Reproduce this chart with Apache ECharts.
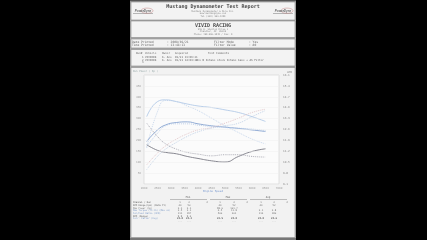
<!DOCTYPE html>
<html><head><meta charset="utf-8">
<script src="https://cdn.jsdelivr.net/npm/echarts@6/dist/echarts.min.js"></script>
<style>html,body{margin:0;padding:0;background:#000;}#c{width:427px;height:240px;}</style>
</head><body><div id="c"></div>
<script>
const rpm = [2100,2500,2800,3200,3600,4000,4500,5000,5500,6000,6500];
const run1Power = [309,378,386,378,367,358,351,340,328,309,287];
const run2Power = [165,332,383,378,358,337,302,267,236,206,184];
const run1Torque = [195,248,271,282,285,276,267,261,255,248,241];
const run2Torque = [172,233,267,276,276,270,264,259,256,252,245];
const run1Boost = [88,142,175,206,230,248,259,279,302,328,343];
const run2Boost = [66,127,160,191,218,239,256,267,279,309,337];
const run1Afr = [11.62,11.26,11.13,11.04,10.87,10.74,10.59,10.51,10.87,11.19,11.36];
const run2Afr = [13.01,12.15,11.68,11.34,11.13,11.02,10.91,10.98,10.98,10.87,10.83];
const xTicks = {min:2000, max:7000, step:500};
const leftTicks = {min:0, max:500, step:50};
const rightTicks = {min:9.1, max:16.1, step:0.7};
const tableRows = ['Channel / Run','RPM Range(rpm) (Data Pt)','Max Power (hp)','Max Torque (ft-lb) (Max vs)','Air/Fuel Ratio (AFR)','RPM (Range)','Corr. Factor (Avg)'];
const tableRowColors = ['#555','#666','#777','#7f9cc8','#7f9cc8','#666','#7f9cc8'];
const tableVals = [
  ['1','2','3','1','2','3','1','2','3'],
  ['44','50','','44','52','','44','52',''],
  ['2.1','2.1','','98.0','101.7','','','',''],
  ['2.5','2.1','','6.5','11.8','','2.1','2.8',''],
  ['111','197','','500','201','','116','180',''],
  ['9.9','9.6','','','','','','',''],
  ['23.8','23.2','','22.9','23.8','','23.8','23.6',''],
  ['...','...','','...','...','','...','...','']
];

const mono = '"DejaVu Sans Mono", monospace';
function T(x,y,text,o){o=o||{};return {type:'text',x:x,y:y,silent:true,z:10,style:{text:text,fill:o.c||'#666',font:(o.w||'normal')+' '+(o.s||3)+'px '+(o.f||mono),textAlign:o.a||'left',textVerticalAlign:'middle'}};}
function R(x,y,w,h,fill,stroke,lw){return {type:'rect',silent:true,z:1,shape:{x:x,y:y,width:w,height:h},style:{fill:fill,stroke:stroke||null,lineWidth:lw||0}};}
function L(x1,y1,x2,y2,c,lw){return {type:'line',silent:true,z:5,shape:{x1:x1,y1:y1,x2:x2,y2:y2},style:{stroke:c,lineWidth:lw||0.5}};}

const g = [];
g.push(R(130,0,166,240,'#a8a8a8'));
g.push(R(131,2,164,18,'#f3f3f3','#8a8a8a',0.6));
g.push(R(131,21,164,16.5,'#f3f3f3','#8a8a8a',0.6));
g.push(R(131,39,164,9,'#f3f3f3','#8a8a8a',0.6));
g.push(R(131,49.5,164,16.5,'#f3f3f3','#8a8a8a',0.6));
g.push(R(131,67.5,164,170,'#f2f2f2','#8a8a8a',0.6));
g.push(R(130,0,166,1.2,'#555'));
g.push(R(130,238,166,2,'#777'));
// header
g.push(T(213,7,'Mustang Dynamometer Test Report',{s:5,w:'bold',c:'#4a4a4a',a:'center'}));
g.push(T(213,11,'Mustang Dynamometer & More Inc.',{s:2.3,c:'#888',a:'center'}));
g.push(T(213,13.5,'www.mustangdyne.com',{s:2.3,c:'#888',a:'center'}));
g.push(T(213,16,'Tel (330) 963-5400',{s:2.3,c:'#888',a:'center'}));
[[143,11.5],[283,11.5]].forEach(function(p){
  g.push({type:'ellipse',silent:true,z:6,shape:{cx:p[0]+4,cy:p[1]-0.8,rx:6,ry:2.6},style:{fill:null,stroke:'#c08080',lineWidth:0.5}});
  g.push(T(p[0],p[1],'PowerDyne',{s:3,w:'bold italic',c:'#666',a:'center',f:'"Liberation Sans", sans-serif'}));
  g.push(L(p[0]-10,p[1]+2,p[0]+10,p[1]+2,'#777',0.5));
});
g.push(T(213,25.5,'VIVID RACING',{s:5,w:'bold',c:'#4a4a4a',a:'center'}));
g.push(T(213,29.5,'955 W. Shelton Drive 1',{s:2.3,c:'#888',a:'center'}));
g.push(T(213,31.8,'Chandler, AZ  85226',{s:2.3,c:'#888',a:'center'}));
g.push(T(213,34.2,'Phone: 480-966-3040 / Fax: 0',{s:2.3,c:'#888',a:'center'}));
// date box
g.push(T(132,42,'Date Printed',{s:3,c:'#666'}));
g.push(T(132,45,'Time Printed',{s:3,c:'#666'}));
g.push(T(167,42,': 2008/01/21',{s:3,c:'#666'}));
g.push(T(167,45,': 13:44:13',{s:3,c:'#666'}));
g.push(T(214,42,'Filter Mode',{s:3,c:'#666'}));
g.push(T(214,45,'Filter Value',{s:3,c:'#666'}));
g.push(T(249,42,': Yes',{s:3,c:'#666'}));
g.push(T(249,45,': 80',{s:3,c:'#666'}));
// runs box
g.push(T(136,53,'Run#',{s:2.7,c:'#666'}));
g.push(T(145,53,'Vehicle',{s:2.7,c:'#666'}));
g.push(T(162,53,'Owner',{s:2.7,c:'#666'}));
g.push(T(175,53,'Acquired',{s:2.7,c:'#666'}));
g.push(T(208,53,'Test Comments',{s:2.7,c:'#666'}));
g.push(T(142,57,'1',{s:2.7,c:'#666'}));
g.push(T(145,57,'VIVID08',{s:2.7,c:'#666'}));
g.push(T(162,57,'K. Ano',{s:2.7,c:'#666'}));
g.push(T(175,57,'01/21 13:06:21',{s:2.7,c:'#666'}));
g.push(T(142,60,'2',{s:2.7,c:'#666'}));
g.push(T(145,60,'VIVID08',{s:2.7,c:'#666'}));
g.push(T(162,60,'K. Ano',{s:2.7,c:'#666'}));
g.push(T(175,60,'01/21 14:09:27',{s:2.7,c:'#666'}));
g.push(T(196,60,'Ans N Intake stock Intake base + AS Filter',{s:2.7,c:'#666'}));
g.push(T(142,62.8,'3',{s:2.7,c:'#666'}));
// chart labels
g.push(T(133,71,'Run Power ( hp )',{s:2.6,c:'#9aa'}));
g.push(T(292,72,'AFR',{s:2.6,c:'#777',a:'right'}));
g.push(T(213,191,'Engine Speed',{s:2.8,c:'#7a9ad0',a:'center'}));
// table
[[188,'Min',170,207],[228,'Max',210,247],[268,'Avg',250,287]].forEach(function(h){
  g.push(T(h[0],197.5,h[1],{s:2.6,c:'#666',a:'center'}));
  g.push(L(h[2],199.5,h[3],199.5,'#888',0.5));
});
const colX = [180,189,207,220,234,247,261,274,287];
const rowY = [202.7,205.3,208,210.7,213.3,216,218.7,221.3];
tableRows.forEach(function(r,i){ g.push(T(133,rowY[i],r,{s:2.3,c:tableRowColors[i]})); });
tableVals.forEach(function(row,i){ row.forEach(function(v,j){ if(v) g.push(T(colX[j],rowY[i],v,{s:2.5,c:i===6?'#555':'#777',a:'center',w:i===6?'bold':'normal'})); }); });

function pairs(ys){return rpm.map(function(x,i){return [x,ys[i]];});}
function S(name,ys,color,dash,axis,w){return {name:name,type:'line',smooth:true,symbol:'none',yAxisIndex:axis||0,data:pairs(ys),lineStyle:{color:color,width:w||0.8,type:dash?[1,1]:'solid'},z:3};}

const chart = echarts.init(document.getElementById('c'),null,{renderer:'canvas'});
chart.setOption({
  backgroundColor:'#000',
  animation:false,
  grid:{left:144,top:75,width:135,height:109,show:true,backgroundColor:'#fbfbfb',borderColor:'#d0d0d0',borderWidth:0.6,z:2},
  xAxis:{type:'value',z:8,min:xTicks.min,max:xTicks.max,interval:xTicks.step,
    axisLine:{show:false},axisTick:{show:false},splitLine:{show:false},
    axisLabel:{show:true,fontSize:2.8,color:'#a0a0a0',margin:3,fontFamily:mono,formatter:function(v){return String(v);}}},
  yAxis:[{type:'value',z:8,min:leftTicks.min,max:leftTicks.max,interval:leftTicks.step,
    axisLine:{show:false},axisTick:{show:false},
    splitLine:{show:true,lineStyle:{color:'#efefef',width:0.5}},
    axisLabel:{show:true,fontSize:2.8,color:'#a0a0a0',margin:3,fontFamily:mono,formatter:function(v){return (v===leftTicks.min||v===leftTicks.max)?'':String(v);}}},
   {type:'value',z:8,min:rightTicks.min,max:rightTicks.max,interval:rightTicks.step,position:'right',
    axisLine:{show:false},axisTick:{show:false},splitLine:{show:false},
    axisLabel:{show:true,fontSize:2.8,color:'#888',margin:4,fontFamily:mono,formatter:function(v){return v.toFixed(1);}}}],
  series:[
    S('Run 1 Power',run1Power,'#aac4e4',false),
    S('Run 2 Power',run2Power,'#bccfe8',true),
    S('Run 1 Torque',run1Torque,'#86a3d0',false,0,0.9),
    S('Run 2 Torque',run2Torque,'#b3c8e4',true),
    S('Run 1 Boost',run1Boost,'#dcbcc0',true),
    S('Run 2 Boost',run2Boost,'#b8cae2',true),
    S('Run 1 AFR',run1Afr,'#7a7a84',false,1,0.9),
    S('Run 2 AFR',run2Afr,'#9a9aa6',true,1)
  ],
  graphic:{elements:g}
});
</script></body></html>
